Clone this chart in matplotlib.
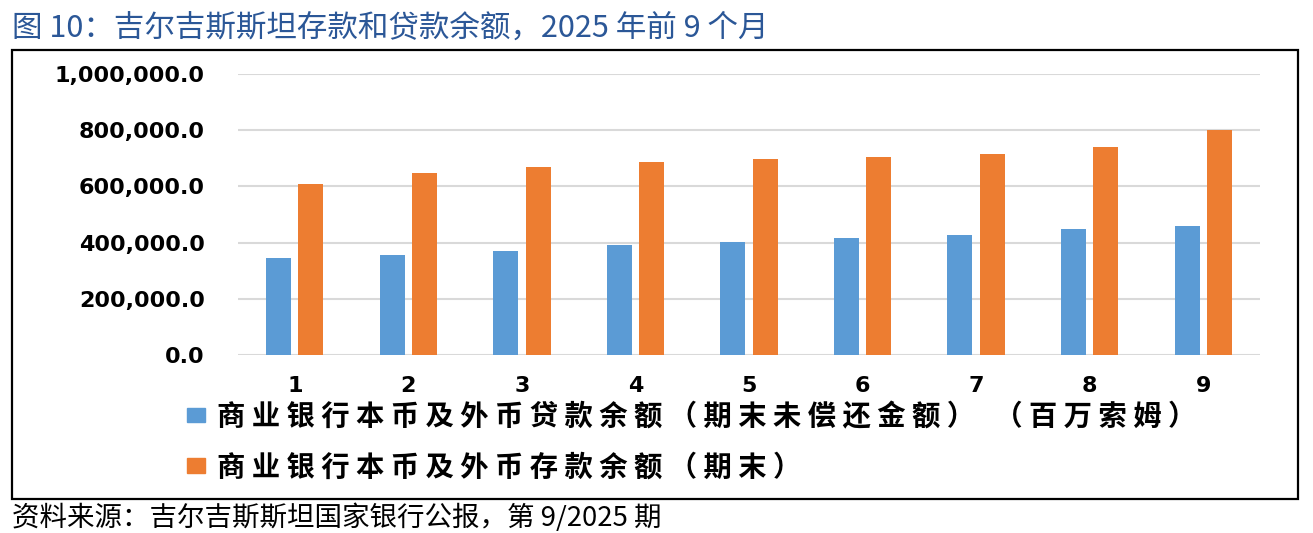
import matplotlib.pyplot as plt
import numpy as np
from matplotlib.patches import Rectangle, Patch
from matplotlib.ticker import FuncFormatter

plt.rcParams['font.family'] = ['Noto Sans CJK SC', 'DejaVu Sans']

# 数据：2025 年 1-9 月（百万索姆）
months = ['1', '2', '3', '4', '5', '6', '7', '8', '9']
loans = [346700, 357400, 370400, 392900, 403600, 416600, 428400, 447300, 460400]
deposits = [609500, 647300, 667500, 687600, 697000, 703000, 717000, 740800, 802400]
y_ticks = [0, 200000, 400000, 600000, 800000, 1000000]

title = '图 10：吉尔吉斯斯坦存款和贷款余额，2025 年前 9 个月'
source = '资料来源：吉尔吉斯斯坦国家银行公报，第 9/2025 期'
label_loans = '商业银行本币及外币贷款余额（期末未偿还金额） （百万索姆）'
label_deposits = '商业银行本币及外币存款余额（期末）'

BLUE = '#5B9BD5'
ORANGE = '#ED7D31'
W, H = 1313, 533


def spaced(s):
    # 参考图里图例文字是加了字间距的
    return ' '.join(list(s))


fig = plt.figure(figsize=(W / 100, H / 100), dpi=100)
ax = fig.add_axes([238 / W, 1 - 355 / H, 1022 / W, 281 / H])

x = np.arange(len(months))
bw = 0.22
ax.bar(x - 0.142, loans, width=bw, color=BLUE, zorder=3)
ax.bar(x + 0.142, deposits, width=bw, color=ORANGE, zorder=3)

ax.set_xlim(-0.5, len(months) - 0.5)
ax.set_ylim(0, 1000000)
ax.set_yticks(y_ticks)
ax.yaxis.set_major_formatter(FuncFormatter(lambda v, p: f'{v:,.1f}'))
ax.set_xticks(x)
ax.set_xticklabels(months)
ax.grid(axis='y', color='#D9D9D9', linewidth=1.5, zorder=0)
ax.set_axisbelow(True)
for s in ax.spines.values():
    s.set_visible(False)
ax.tick_params(axis='y', length=0, pad=24)
ax.tick_params(axis='x', length=0, pad=15)
for lab in ax.get_yticklabels() + ax.get_xticklabels():
    lab.set_family('DejaVu Sans')
    lab.set_fontweight('bold')
    lab.set_fontsize(16)

handles = [Patch(color=BLUE), Patch(color=ORANGE)]
ax.legend(handles, [spaced(label_loans), spaced(label_deposits)],
          loc='upper left', bbox_to_anchor=(187 / W, 1 - 403 / H),
          bbox_transform=fig.transFigure, frameon=False,
          prop={'family': 'Noto Sans CJK SC', 'weight': 'bold', 'size': 20.4},
          handlelength=0.65, handleheight=0.42, handletextpad=0.42,
          labelspacing=0.8, borderpad=0, borderaxespad=0)

# 外框
fig.patches.append(Rectangle((12 / W, 1 - 499 / H), 1286 / W, 449 / H,
                             transform=fig.transFigure, fill=False,
                             edgecolor='black', linewidth=1.6))

fig.text(12 / W, 1 - 28 / H, title, fontsize=22, color='#2B5797',
         ha='left', va='center')
fig.text(12 / W, 1 - 518 / H, source, fontsize=19.8, color='black',
         ha='left', va='center')

fig.savefig('out.png', dpi=100)
